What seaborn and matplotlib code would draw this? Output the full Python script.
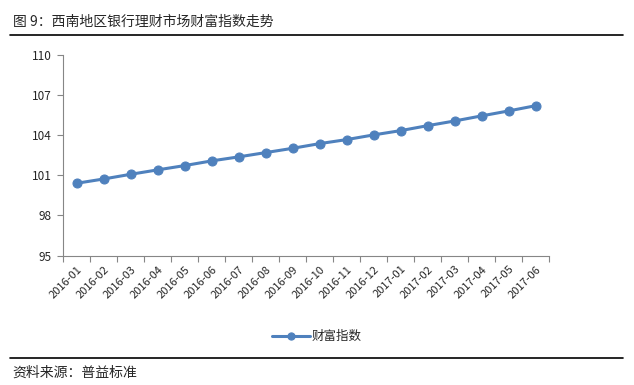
import numpy as np
import pandas as pd
import seaborn as sns
import matplotlib.pyplot as plt
from matplotlib.lines import Line2D

months = ["2016-01", "2016-02", "2016-03", "2016-04", "2016-05", "2016-06",
          "2016-07", "2016-08", "2016-09", "2016-10", "2016-11", "2016-12",
          "2017-01", "2017-02", "2017-03", "2017-04", "2017-05", "2017-06"]
wealth_index = [100.40, 100.72, 101.07, 101.40, 101.72, 102.07,
                102.37, 102.69, 103.01, 103.36, 103.66, 104.01,
                104.33, 104.70, 105.05, 105.43, 105.80, 106.19]
y_ticks = [95, 98, 101, 104, 107, 110]

title = "图 9：西南地区银行理财市场财富指数走势"
source = "资料来源：普益标准"
series_name = "财富指数"

sns.set_style("white")
plt.rcParams["font.family"] = ["Noto Sans CJK SC", "DejaVu Sans"]

df = pd.DataFrame({"month": months, "value": wealth_index})

fig = plt.figure(figsize=(6.34, 3.85), dpi=100)
ax = fig.add_axes([0.0994, 0.336, 0.7666, 0.522])

color = "#4F81BD"
sns.lineplot(data=df, x="month", y="value", ax=ax, color=color, linewidth=2.2,
             marker="o", markersize=6.5, markeredgecolor=color, label=series_name)

ax.set_xlim(-0.5, len(months) - 0.5)
ax.set_ylim(95, 110)
ax.set_yticks(y_ticks)
ax.set_xlabel("")
ax.set_ylabel("")

# ticks on category boundaries for x
ax.set_xticks(np.arange(len(months)))
ax.set_xticklabels(months, rotation=45, ha="right", rotation_mode="anchor", fontsize=8)
ax.set_xticks(np.arange(-0.5, len(months)), minor=True)
ax.tick_params(axis="x", which="major", length=0, pad=6)
ax.tick_params(axis="x", which="minor", length=4, color="#868686", width=0.8, direction="out")
ax.tick_params(axis="y", length=4, color="#868686", width=0.8, direction="out", labelsize=8.5, pad=4)
ax.yaxis.set_ticks_position("left")
ax.xaxis.set_ticks_position("bottom")

for s in ["top", "right"]:
    ax.spines[s].set_visible(False)
for s in ["left", "bottom"]:
    ax.spines[s].set_color("#868686")
    ax.spines[s].set_linewidth(0.8)

leg = ax.legend(loc="center", bbox_to_anchor=(0.5, 0.125), bbox_transform=fig.transFigure,
                frameon=False, fontsize=9, handlelength=3.0, handletextpad=0.2,
                markerscale=0.8)

fig.text(0.02, 0.943, title, fontsize=10, ha="left", va="center")
fig.add_artist(Line2D([0.016, 0.982], [0.909, 0.909], color="black", linewidth=1.2,
                      transform=fig.transFigure))
fig.add_artist(Line2D([0.016, 0.982], [0.07, 0.07], color="black", linewidth=1.2,
                      transform=fig.transFigure))
fig.text(0.02, 0.033, source, fontsize=10, ha="left", va="center")

plt.savefig("out.png", dpi=100)
plt.close()
